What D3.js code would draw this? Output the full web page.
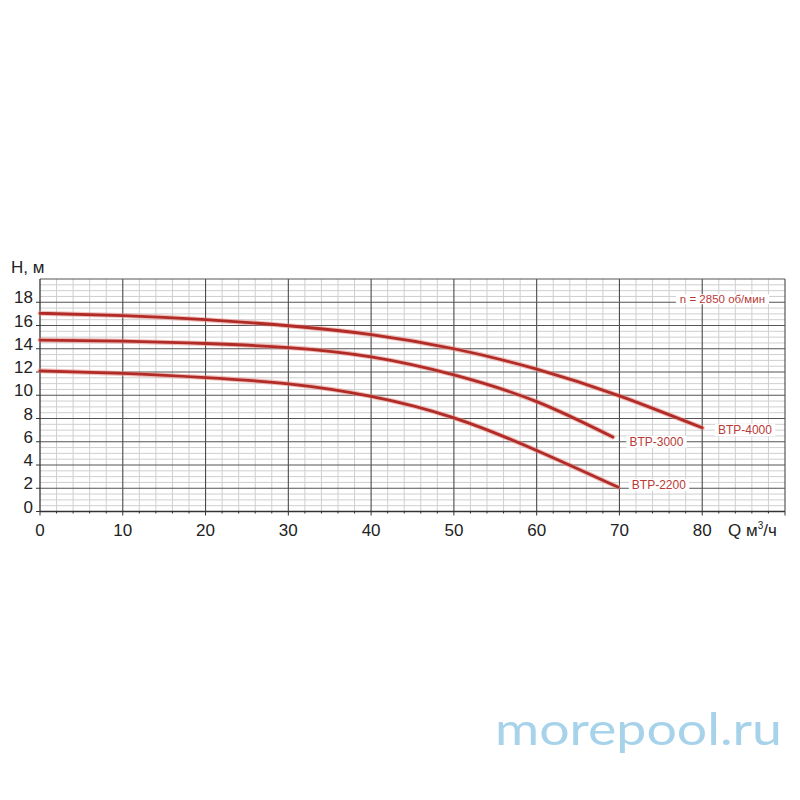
<!DOCTYPE html>
<html><head><meta charset="utf-8">
<script src="https://cdn.jsdelivr.net/npm/d3@7"></script>
<style>body{margin:0;background:#fff}svg{display:block}</style>
</head><body>
<svg id="c" width="800" height="800"></svg>
<script>
const xTicks = [0,10,20,30,40,50,60,70,80];
const yTicks = [0,2,4,6,8,10,12,14,16,18];
const q4000 = [0,10,20,30,40,50,60,70,80];
const h4000 = [17.05,16.85,16.5,15.98,15.22,14.0,12.25,9.95,7.2];
const q3000 = [0,10,20,30,40,50,60,69.2];
const h3000 = [14.75,14.65,14.45,14.1,13.3,11.75,9.45,6.4];
const q2200 = [0,10,20,30,40,50,60,69.8];
const h2200 = [12.1,11.88,11.52,10.98,9.9,8.05,5.25,2.1];
const seriesNames = ["BTP-4000","BTP-3000","BTP-2200"];
const labelAt = [[81.9,7.0],[71.2,6.0],[71.5,2.3]];
const speedLabel = "n = 2850 об/мин";

const svg = d3.select("#c");
const x = d3.scaleLinear().domain([0,90]).range([40,785]);
const y = d3.scaleLinear().domain([0,20]).range([511.5,279]);
const font = "'Liberation Sans', Arial, Helvetica, sans-serif";

const g = svg.append("g");
const minorX = d3.range(2,90,2).filter(v=>v%10!==0);
const minorY = d3.range(0.5,20,0.5).filter(v=>v%2!==0);
g.selectAll(".mx").data(minorX).join("line")
  .attr("x1",d=>x(d)).attr("x2",d=>x(d)).attr("y1",y(0)).attr("y2",y(20))
  .attr("stroke","#cfcfcf").attr("stroke-width",1);
g.selectAll(".my").data(minorY).join("line")
  .attr("x1",x(0)).attr("x2",x(90)).attr("y1",d=>y(d)).attr("y2",d=>y(d))
  .attr("stroke","#cfcfcf").attr("stroke-width",1);
g.selectAll(".Mx").data(d3.range(10,91,10)).join("line")
  .attr("x1",d=>x(d)).attr("x2",d=>x(d)).attr("y1",y(0)).attr("y2",y(20))
  .attr("stroke","#4a4a4a").attr("stroke-width",1.1);
g.selectAll(".My").data(d3.range(2,21,2)).join("line")
  .attr("x1",x(0)).attr("x2",x(90)).attr("y1",d=>y(d)).attr("y2",d=>y(d))
  .attr("stroke","#555").attr("stroke-width",1.1);
g.append("line").attr("x1",x(0)).attr("x2",x(0)).attr("y1",y(0)).attr("y2",y(20)).attr("stroke","#333").attr("stroke-width",1.3);
g.append("line").attr("x1",x(0)).attr("x2",x(90)).attr("y1",y(0)).attr("y2",y(0)).attr("stroke","#333").attr("stroke-width",1.3);
g.selectAll(".ty").data(yTicks).join("line")
  .attr("x1",x(0)-4).attr("x2",x(0)).attr("y1",d=>y(d)).attr("y2",d=>y(d)).attr("stroke","#333");
g.selectAll(".tx").data(d3.range(0,91,2)).join("line")
  .attr("x1",d=>x(d)).attr("x2",d=>x(d)).attr("y1",y(0)).attr("y2",d=>y(0)+(d%10===0?4:2)).attr("stroke","#333");

g.selectAll(".ly").data(yTicks).join("text")
  .attr("x",33).attr("y",d=>y(d)+1).attr("text-anchor","end")
  .attr("font-family",font).attr("font-size",17).attr("fill","#222").text(d=>d);
g.selectAll(".lx").data(xTicks).join("text")
  .attr("x",d=>x(d)).attr("y",536).attr("text-anchor","middle")
  .attr("font-family",font).attr("font-size",17).attr("fill","#222").text(d=>d);
g.append("text").attr("x",11).attr("y",273).attr("font-family",font).attr("font-size",17).attr("fill","#222").text("H, м");
const ql = g.append("text").attr("x",728).attr("y",536).attr("font-family",font).attr("font-size",17).attr("fill","#222");
ql.append("tspan").text("Q м");
ql.append("tspan").attr("font-size",10).attr("dy",-7).text("3");
ql.append("tspan").attr("dy",7).text("/ч");

const line = d3.line().x(d=>x(d[0])).y(d=>y(d[1])).curve(d3.curveNatural);
const series = [d3.zip(q4000,h4000), d3.zip(q3000,h3000), d3.zip(q2200,h2200)];
series.forEach(s=>{
  g.append("path").attr("d",line(s)).attr("fill","none").attr("stroke","#e58a84").attr("stroke-width",5).attr("stroke-opacity",0.55).attr("stroke-linecap","round");
  g.append("path").attr("d",line(s)).attr("fill","none").attr("stroke","#b12b27").attr("stroke-width",2.8).attr("stroke-linecap","round");
});

seriesNames.forEach((n,i)=>{
  const t = g.append("text").attr("x",x(labelAt[i][0])).attr("y",y(labelAt[i][1])+4)
    .attr("font-family",font).attr("font-size",12).attr("fill","#b83a36").text(n);
  const b = t.node().getBBox();
  g.insert("rect", () => t.node()).attr("x",b.x-3).attr("y",b.y+1).attr("width",b.width+6).attr("height",b.height-2).attr("fill","#fff");
});
{
  const t = g.append("text").attr("x",x(77.3)).attr("y",y(18)+1)
    .attr("font-family",font).attr("font-size",11.5).attr("fill","#b83a36").text(speedLabel);
  const b = t.node().getBBox();
  g.insert("rect", () => t.node()).attr("x",b.x-4).attr("y",b.y+1).attr("width",b.width+8).attr("height",b.height-2).attr("fill","#fff");
}

svg.append("text").attr("x",495).attr("y",745).attr("font-family","Lato, 'Open Sans', sans-serif")
  .attr("font-weight",400).attr("font-size",44).attr("fill","#a6d3ea")
  .attr("textLength",287).attr("lengthAdjust","spacingAndGlyphs").text("morepool.ru");
</script>
</body></html>
